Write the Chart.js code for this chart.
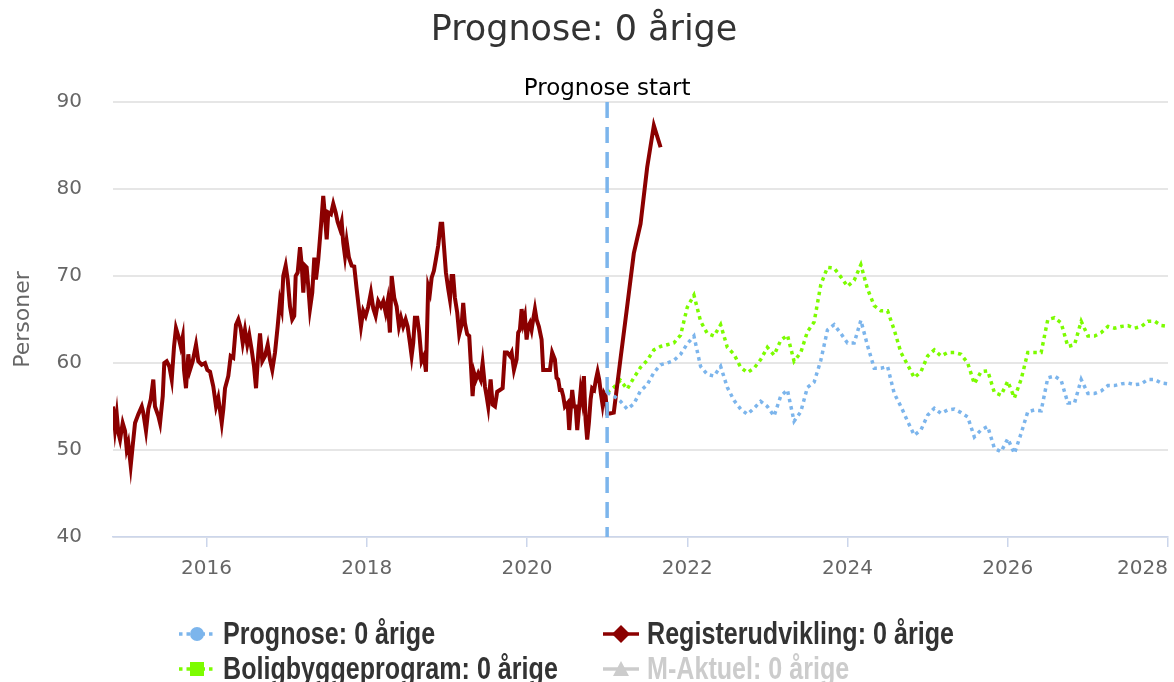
<!DOCTYPE html>
<html lang="da">
<head>
<meta charset="UTF-8">
<title>Prognose: 0 årige</title>
<style>
  html, body { margin: 0; padding: 0; background: #fff; overflow: hidden; }
  #wrap { position: relative; width: 1174px; height: 682px; overflow: hidden; }
  #chart { display: block; }
  #legend { position: absolute; left: 179px; top: 616px; width: 900px; display: grid; grid-template-columns: 424px 476px; grid-auto-rows: 35px;
            font-family: "Liberation Sans", sans-serif; font-size: 31px; font-weight: bold; color: #333; overflow: hidden; }
  #legend .item { display: flex; align-items: center; white-space: nowrap; overflow: hidden; }
  #legend svg { flex: none; margin-right: 8px; }
  #legend span { display: inline-block; transform: scaleX(0.81); transform-origin: left center; }
</style>
</head>
<body>
<div id="wrap">
  <canvas id="chart" width="1174" height="682"></canvas>
  <div id="legend"></div>
</div>
<script src="https://cdn.jsdelivr.net/npm/chart.js@4.4.1/dist/chart.umd.min.js"></script>
<script>
// x axis in decimal years
const xMin = 2014.833;
const xMax = 2028;
const forecastStart = 2021;
const tickYears = [2016, 2018, 2020, 2022, 2024, 2026, 2028];
const yTicks = [40, 50, 60, 70, 80, 90];

// Registerudvikling
const registerYears = [
  2014.833, 2014.858, 2014.880, 2014.900, 2014.921, 2014.954, 2014.983, 2015.004, 2015.024, 2015.054,
  2015.079, 2015.108, 2015.149, 2015.192, 2015.211, 2015.245, 2015.274, 2015.304, 2015.336, 2015.357,
  2015.399, 2015.420, 2015.454, 2015.473, 2015.503, 2015.536, 2015.566, 2015.595, 2015.619, 2015.648,
  2015.678, 2015.703, 2015.719, 2015.744, 2015.773, 2015.794, 2015.828, 2015.869, 2015.898, 2015.940,
  2015.981, 2016.010, 2016.044, 2016.085, 2016.119, 2016.147, 2016.190, 2016.210, 2016.231, 2016.272,
  2016.302, 2016.334, 2016.368, 2016.397, 2016.427, 2016.452, 2016.480, 2016.509, 2016.534, 2016.564,
  2016.593, 2016.618, 2016.646, 2016.668, 2016.696, 2016.730, 2016.764, 2016.792, 2016.821, 2016.855,
  2016.888, 2016.917, 2016.938, 2016.958, 2016.988, 2017.013, 2017.042, 2017.070, 2017.095, 2017.113,
  2017.138, 2017.167, 2017.188, 2017.208, 2017.229, 2017.250, 2017.270, 2017.291, 2017.320, 2017.345,
  2017.366, 2017.395, 2017.429, 2017.457, 2017.478, 2017.500, 2017.520, 2017.553, 2017.582, 2017.612,
  2017.637, 2017.666, 2017.687, 2017.707, 2017.728, 2017.749, 2017.778, 2017.812, 2017.844, 2017.874,
  2017.903, 2017.928, 2017.956, 2017.986, 2018.019, 2018.052, 2018.081, 2018.111, 2018.143, 2018.177,
  2018.206, 2018.236, 2018.261, 2018.289, 2018.311, 2018.343, 2018.373, 2018.402, 2018.427, 2018.455,
  2018.485, 2018.510, 2018.539, 2018.560, 2018.580, 2018.601, 2018.630, 2018.655, 2018.685, 2018.714,
  2018.739, 2018.767, 2018.789, 2018.810, 2018.838, 2018.863, 2018.892, 2018.922, 2018.942, 2018.963,
  2018.988, 2019.017, 2019.038, 2019.059, 2019.079, 2019.100, 2019.129, 2019.154, 2019.184, 2019.204,
  2019.225, 2019.254, 2019.279, 2019.296, 2019.321, 2019.341, 2019.362, 2019.391, 2019.421, 2019.446,
  2019.475, 2019.496, 2019.516, 2019.546, 2019.571, 2019.600, 2019.628, 2019.662, 2019.696, 2019.724,
  2019.753, 2019.787, 2019.808, 2019.837, 2019.870, 2019.890, 2019.911, 2019.933, 2019.953, 2019.974,
  2019.995, 2020.015, 2020.036, 2020.057, 2020.077, 2020.099, 2020.120, 2020.148, 2020.182, 2020.202,
  2020.244, 2020.286, 2020.314, 2020.348, 2020.369, 2020.389, 2020.410, 2020.432, 2020.452, 2020.473,
  2020.507, 2020.527, 2020.548, 2020.564, 2020.587, 2020.607, 2020.627, 2020.648, 2020.670, 2020.689,
  2020.710, 2020.731, 2020.751, 2020.772, 2020.794, 2020.813, 2020.838, 2020.860, 2020.881, 2020.901,
  2020.922, 2020.943, 2020.963, 2020.981, 2021.001, 2021.034, 2021.083, 2021.167, 2021.250, 2021.333,
  2021.417, 2021.500, 2021.583, 2021.667
];
const registerValues = [
  55.0, 52.4, 54.1, 52.0, 51.2, 53.1, 52.2, 50.1, 50.8, 48.2,
  50.5, 53.1, 54.1, 55.0, 54.3, 52.2, 54.7, 55.8, 58.1, 55.0,
  53.9, 53.1, 56.2, 60.0, 60.2, 59.6, 58.1, 61.9, 64.0, 63.1,
  61.9, 63.0, 59.2, 57.1, 61.0, 59.2, 60.2, 62.1, 60.2, 59.8,
  60.0, 59.2, 59.0, 57.3, 55.0, 56.0, 53.1, 54.7, 57.1, 58.5,
  60.8, 60.6, 64.4, 65.0, 64.0, 62.3, 63.8, 62.1, 63.2, 61.5,
  59.6, 57.1, 61.1, 63.4, 60.2, 60.8, 62.1, 60.4, 59.2, 61.2,
  64.2, 67.1, 66.2, 70.0, 71.2, 69.6, 66.5, 65.0, 65.4, 70.0,
  70.4, 73.3, 71.3, 68.1, 71.2, 71.0, 68.8, 66.2, 68.1, 72.1,
  69.6, 71.9, 75.8, 79.2, 76.9, 74.2, 77.3, 77.1, 78.3, 77.3,
  76.2, 75.4, 76.2, 73.8, 72.3, 74.0, 72.1, 71.2, 71.1, 68.5,
  66.2, 64.2, 66.0, 65.4, 66.5, 68.1, 66.3, 65.4, 67.1, 66.5,
  67.1, 65.8, 67.1, 63.5, 70.0, 67.5, 66.5, 64.2, 65.2, 64.2,
  65.0, 64.2, 62.3, 60.8, 62.3, 65.2, 65.2, 63.5, 60.2, 60.8,
  59.0, 68.8, 68.1, 69.8, 70.6, 71.9, 73.5, 76.0, 76.0, 73.5,
  70.4, 68.5, 67.3, 70.0, 70.0, 67.5, 65.8, 63.3, 64.4, 66.9,
  64.6, 63.3, 63.1, 60.4, 56.2, 58.8, 58.1, 58.8, 58.1, 60.0,
  57.3, 56.2, 55.0, 58.1, 55.2, 55.0, 56.7, 56.9, 57.1, 61.2,
  61.2, 60.8, 61.2, 59.2, 60.4, 63.5, 63.8, 66.2, 64.6, 65.4,
  62.7, 64.2, 64.6, 63.8, 65.0, 66.2, 65.0, 64.2, 62.7, 59.2,
  59.2, 59.2, 61.2, 60.4, 58.3, 58.1, 56.9, 56.9, 56.2, 55.0,
  55.4, 52.3, 55.0, 56.9, 55.0, 55.0, 52.3, 54.6, 56.9, 55.8,
  58.5, 53.5, 51.2, 53.1, 55.8, 57.1, 56.9, 58.1, 59.0, 58.1,
  56.5, 55.2, 56.5, 56.2, 54.2, 54.2, 54.3, 60.5, 66.5, 72.6,
  76.0, 82.5, 87.3, 84.8
];

// monthly forecasts, first value at forecastStart
const prognoseValues = [
  56.6, 56.2, 55.6, 54.7, 55.3, 56.8, 57.5, 58.9, 59.8, 60.0, 60.3, 61.0,
  62.2, 63.1, 59.6, 58.7, 58.5, 59.6, 57.2, 55.7, 54.7, 54.1, 54.8, 55.6,
  55.0, 53.9, 56.2, 56.9, 53.3, 54.4, 57.2, 57.8, 60.3, 63.8, 64.4, 63.4,
  62.3, 62.3, 64.9, 62.0, 59.4, 59.4, 59.6, 56.5, 55.0, 53.3, 51.7, 52.3,
  54.0, 54.8, 54.2, 54.6, 54.7, 54.3, 53.8, 51.5, 52.3, 52.7, 50.2, 49.8,
  51.3, 49.6, 51.9, 54.4, 54.6, 54.5, 58.3, 58.5, 58.0, 55.4, 55.4, 58.1,
  56.5, 56.5, 56.8, 57.4, 57.4, 57.6, 57.7, 57.5, 57.6, 58.1, 58.1, 57.7,
  57.6
];
const boligValues = [
  56.6, 57.2, 58.0, 57.0, 58.3, 59.5, 60.3, 61.5, 61.9, 62.1, 62.3, 63.2,
  66.4, 67.8, 64.8, 63.4, 63.1, 64.4, 61.8, 61.0, 59.5, 58.9, 59.4, 60.4,
  61.8, 60.9, 62.6, 63.2, 60.2, 61.2, 63.6, 64.7, 69.0, 71.0, 70.9, 69.9,
  68.8, 69.5, 71.3, 68.5, 66.6, 66.0, 66.0, 63.8, 61.2, 59.8, 58.3, 59.0,
  60.8, 61.5, 60.8, 61.2, 61.2, 61.0, 60.0, 57.6, 59.0, 59.1, 56.6, 56.3,
  57.9, 56.0, 58.1, 61.2, 61.2, 61.2, 65.0, 65.2, 64.6, 61.9, 62.1, 64.8,
  63.1, 63.1, 63.5, 64.2, 64.0, 64.2, 64.3, 64.0, 64.2, 64.8, 64.8, 64.3,
  64.2
];

const monthX = i => forecastStart + i / 12;
const register = registerYears.map((x, i) => ({ x: x, y: registerValues[i] }));
const prognose = prognoseValues.map((y, i) => ({ x: monthX(i), y: y }));
const bolig = boligValues.map((y, i) => ({ x: monthX(i), y: y }));

const tickFont = { family: 'DejaVu Sans', size: 20 };

// dashed "Prognose start" line
const prognoseLine = {
  id: 'prognoseLine',
  afterDatasetsDraw(chart) {
    const { ctx, chartArea } = chart;
    const px = chart.scales.x.getPixelForValue(forecastStart);
    ctx.save();
    ctx.strokeStyle = '#7cb5ec';
    ctx.lineWidth = 3.5;
    ctx.setLineDash([16, 9]);
    ctx.beginPath();
    ctx.moveTo(px, chartArea.top);
    ctx.lineTo(px, chartArea.bottom);
    ctx.stroke();
    ctx.setLineDash([]);
    ctx.fillStyle = '#000';
    ctx.font = '23px "DejaVu Sans"';
    ctx.textAlign = 'center';
    ctx.fillText('Prognose start', px, chartArea.top - 7);
    ctx.restore();
  }
};

function glyph(ds, hidden) {
  const c = hidden ? '#cccccc' : ds.borderColor;
  const dash = ds.borderDash ? 'stroke-dasharray="' + ds.borderDash.join(' ') + '"' : '';
  let mark;
  if (ds.pointStyle === 'circle') mark = '<circle cx="18" cy="12" r="7" fill="' + c + '"/>';
  else if (ds.pointStyle === 'rectRot') mark = '<polygon points="18,3 27,12 18,21 9,12" fill="' + c + '"/>';
  else if (ds.pointStyle === 'rect') mark = '<rect x="11" y="5" width="14" height="14" fill="' + c + '"/>';
  else mark = '<polygon points="18,4 26,19 10,19" fill="' + c + '"/>';
  return '<svg width="36" height="24"><line x1="0" y1="12" x2="36" y2="12" stroke="' + c +
    '" stroke-width="3.5" ' + dash + '/>' + mark + '</svg>';
}

const htmlLegend = {
  id: 'htmlLegend',
  afterUpdate(chart) {
    const box = document.getElementById('legend');
    box.innerHTML = '';
    chart.data.datasets.forEach((ds, i) => {
      const hidden = !chart.isDatasetVisible(i);
      const item = document.createElement('div');
      item.className = 'item';
      item.innerHTML = glyph(ds, hidden) + '<span style="color:' + (hidden ? '#cccccc' : '#333333') + '">' + ds.label + '</span>';
      box.appendChild(item);
    });
  }
};

new Chart(document.getElementById('chart'), {
  type: 'line',
  data: {
    datasets: [
      { label: 'Prognose: 0 årige', data: prognose, borderColor: '#7cb5ec', backgroundColor: '#7cb5ec',
        borderWidth: 3.5, borderDash: [3.5, 4], pointRadius: 0, pointStyle: 'circle', tension: 0 },
      { label: 'Registerudvikling: 0 årige', data: register, borderColor: '#8b0000', backgroundColor: '#8b0000',
        borderWidth: 4, pointRadius: 0, pointStyle: 'rectRot', tension: 0 },
      { label: 'Boligbyggeprogram: 0 årige', data: bolig, borderColor: '#7cfc00', backgroundColor: '#7cfc00',
        borderWidth: 3.5, borderDash: [3.5, 4], pointRadius: 0, pointStyle: 'rect', tension: 0 },
      { label: 'M-Aktuel: 0 årige', data: [], borderColor: '#434348', backgroundColor: '#434348',
        borderWidth: 3.5, pointRadius: 0, pointStyle: 'triangle', hidden: true }
    ]
  },
  options: {
    responsive: false,
    animation: false,
    layout: { autoPadding: false, padding: { left: 0, right: 6, top: 0, bottom: 95 } },
    plugins: {
      legend: { display: false },
      tooltip: { enabled: false },
      title: {
        display: true, text: 'Prognose: 0 årige', color: '#333333',
        font: { family: 'DejaVu Sans', size: 35, weight: 'normal' },
        padding: { top: 10, bottom: 50 }
      }
    },
    scales: {
      x: {
        type: 'linear', min: xMin, max: xMax,
        afterBuildTicks: s => { s.ticks = [xMin].concat(tickYears).map(v => ({ value: v })); },
        afterFit: s => { s.height = 50; },
        grid: { drawOnChartArea: false, tickLength: 10, lineWidth: 1.5,
                color: c => (c.tick && c.tick.value === xMin) ? 'rgba(0,0,0,0)' : '#ccd6eb' },
        border: { color: '#ccd6eb', width: 1.5 },
        ticks: { align: 'inner', autoSkip: false, maxRotation: 0, color: '#666666', padding: 6,
                 font: { family: 'DejaVu Sans', size: 20, lineHeight: 1.6 },
                 callback: v => v === xMin ? '' : String(v) }
      },
      y: {
        min: 40, max: 90,
        afterBuildTicks: s => { s.ticks = yTicks.map(v => ({ value: v })); },
        afterFit: s => { s.width = 113; },
        grid: { color: '#e6e6e6', lineWidth: 2, drawTicks: false },
        border: { display: false },
        ticks: { color: '#666666', font: tickFont, padding: 31 },
        title: { display: true, text: 'Personer', color: '#666666', font: { family: 'DejaVu Sans', size: 22 },
                 padding: { top: 10, bottom: 0 } }
      }
    }
  },
  plugins: [prognoseLine, htmlLegend]
});
</script>
</body>
</html>
